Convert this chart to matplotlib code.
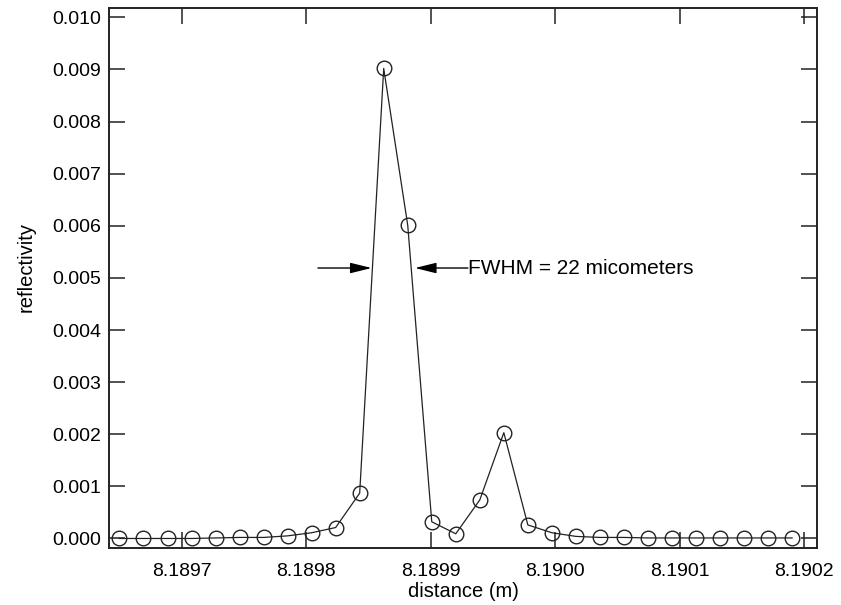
import matplotlib
matplotlib.use("Agg")
import matplotlib.pyplot as plt

plt.rcParams['font.family'] = ['Liberation Sans', 'DejaVu Sans']

# data
distance = [8.1896500, 8.1896693, 8.1896886, 8.1897079, 8.1897272, 8.1897465,
            8.1897658, 8.1897851, 8.1898044, 8.1898237, 8.1898430, 8.1898623,
            8.1898816, 8.1899009, 8.1899202, 8.1899395, 8.1899588, 8.1899781,
            8.1899974, 8.1900167, 8.1900360, 8.1900553, 8.1900746, 8.1900939,
            8.1901132, 8.1901325, 8.1901518, 8.1901711, 8.1901904]
reflectivity = [0.00000, 0.00000, 0.00000, 0.00000, 0.00001, 0.00002,
                0.00002, 0.00005, 0.00011, 0.00021, 0.00087, 0.00902,
                0.00601, 0.00032, 0.00009, 0.00074, 0.00203, 0.00026,
                0.00011, 0.00004, 0.00002, 0.00002, 0.00001, 0.00001,
                0.00001, 0.00001, 0.00001, 0.00001, 0.00001]

xticks = [8.1897, 8.1898, 8.1899, 8.1900, 8.1901, 8.1902]
xtick_labels = ["8.1897", "8.1898", "8.1899", "8.1900", "8.1901", "8.1902"]
yticks = [0.000, 0.001, 0.002, 0.003, 0.004, 0.005, 0.006, 0.007, 0.008, 0.009, 0.010]
ytick_labels = ["0.000", "0.001", "0.002", "0.003", "0.004", "0.005",
                "0.006", "0.007", "0.008", "0.009", "0.010"]

fig = plt.figure(figsize=(8.41, 6.05), dpi=100)
ax = fig.add_axes([0.1302, 0.0942, 0.8413, 0.8926])

ax.plot(distance, reflectivity, color='#222222', lw=0.9,
        marker='o', ms=10.5, mfc='none', mec='#222222', mew=1.0)

ax.set_xlim(8.18964199, 8.19021045)
ax.set_ylim(-0.000183, 0.010180)

ax.set_xticks(xticks)
ax.set_xticklabels(xtick_labels)
ax.set_yticks(yticks)
ax.set_yticklabels(ytick_labels)

ax.tick_params(direction='in', length=11.5, width=1.1, top=True, right=True,
               labelsize=14, color='#222222')
ax.tick_params(axis='x', pad=11)
ax.tick_params(axis='y', pad=6)
for s in ax.spines.values():
    s.set_linewidth(1.4)
    s.set_color('#222222')

ax.set_xlabel("distance (m)", fontsize=14.5, labelpad=1)
ax.set_ylabel("reflectivity", fontsize=14.5)
ax.yaxis.set_label_coords(-0.105, 0.52)

# FWHM arrows
arrow_y = 0.00519
head = '-|>,head_length=1.3,head_width=0.32'
ax.annotate("", xy=(8.18985259, arrow_y), xytext=(8.18980947, arrow_y),
            arrowprops=dict(arrowstyle=head, color='black', lw=1.0,
                            mutation_scale=10, shrinkA=0, shrinkB=0))
ax.annotate("", xy=(8.18988738, arrow_y), xytext=(8.18992995, arrow_y),
            arrowprops=dict(arrowstyle=head, color='black', lw=1.0,
                            mutation_scale=10, shrinkA=0, shrinkB=0))
ax.text(8.18993000, arrow_y, "FWHM = 22 micometers", fontsize=15,
        va='center', ha='left')

fig.savefig("out.png", dpi=100)
